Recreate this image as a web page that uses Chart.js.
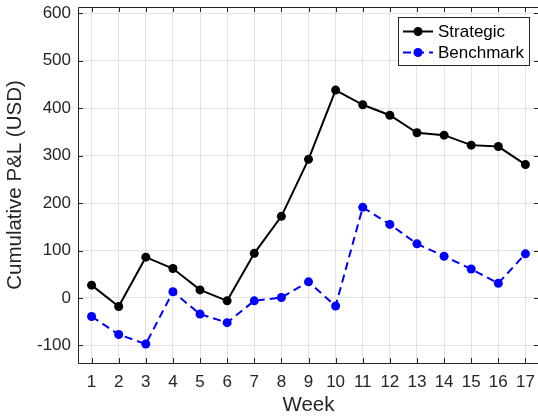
<!DOCTYPE html>
<html>
<head>
<meta charset="utf-8">
<script src="https://cdn.jsdelivr.net/npm/chart.js@4"></script>
<style>
  html, body { margin: 0; padding: 0; background: #fff; overflow: hidden; }
  #wrap { width: 540px; height: 416px; }
</style>
</head>
<body>
<div id="wrap"><canvas id="pnlChart" width="540" height="416"></canvas></div>
<script>
var weeks = [1, 2, 3, 4, 5, 6, 7, 8, 9, 10, 11, 12, 13, 14, 15, 16, 17];
var strategic = [27, -18, 86, 62, 17, -6, 94, 172, 292, 438, 407, 385, 348, 343, 322, 319, 281];
var benchmark = [-39, -77, -97, 13, -34, -52, -6, 1, 34, -17, 191, 155, 114, 88, 61, 31, 93];
var yTicks = [-100, 0, 100, 200, 300, 400, 500, 600];

var axisColor = '#262626';
var gridColor = '#e3e3e3';
var fontFamily = '"Liberation Sans", Arial, Helvetica, sans-serif';

function toPoints(vals) {
    return weeks.map(function (w, i) { return { x: w, y: vals[i] }; });
}

// box around the axes with inward tick marks, like the original
var framePlugin = {
    id: 'frame',
    beforeDatasetsDraw: function (chart) {
        var a = chart.chartArea, c = chart.ctx;
        var xs = chart.scales.x, ys = chart.scales.y;
        c.save();
        c.strokeStyle = axisColor;
        c.lineWidth = 1;
        c.beginPath();
        c.rect(a.left + 0.5, a.top + 0.5, a.right - a.left - 1, a.bottom - a.top);
        weeks.forEach(function (w) {
            var px = Math.round(xs.getPixelForValue(w)) + 0.5;
            c.moveTo(px, a.bottom); c.lineTo(px, a.bottom - 5);
            c.moveTo(px, a.top); c.lineTo(px, a.top + 5);
        });
        yTicks.forEach(function (v) {
            var py = Math.round(ys.getPixelForValue(v)) + 0.5;
            c.moveTo(a.left, py); c.lineTo(a.left + 5, py);
            c.moveTo(a.right, py); c.lineTo(a.right - 5, py);
        });
        c.stroke();
        c.restore();
    }
};

// legend box drawn inside the plot, top right
var boxLegend = {
    id: 'boxLegend',
    afterDatasetsDraw: function (chart) {
        var c = chart.ctx;
        var x0 = 398, y0 = 17, w = 131, h = 48;
        c.save();
        c.fillStyle = '#fff';
        c.fillRect(x0, y0, w, h);
        c.strokeStyle = axisColor;
        c.lineWidth = 1;
        c.strokeRect(x0 + 0.5, y0 + 0.5, w, h);
        chart.data.datasets.forEach(function (ds, i) {
            var y = 31.5 + i * 21;
            c.strokeStyle = ds.borderColor;
            c.lineWidth = ds.borderWidth;
            c.setLineDash(ds.borderDash || []);
            c.beginPath(); c.moveTo(403, y); c.lineTo(433, y); c.stroke();
            c.setLineDash([]);
            c.fillStyle = ds.pointBackgroundColor;
            c.beginPath(); c.arc(418, y, 4.5, 0, Math.PI * 2); c.fill();
            c.fillStyle = '#000';
            c.font = '17px ' + fontFamily;
            c.textBaseline = 'middle';
            c.fillText(ds.label, 438, y + 1);
        });
        c.restore();
    }
};

new Chart(document.getElementById('pnlChart'), {
    type: 'line',
    data: {
        datasets: [{
            label: 'Strategic',
            data: toPoints(strategic),
            borderColor: '#000000',
            backgroundColor: '#000000',
            pointBackgroundColor: '#000000',
            pointBorderWidth: 0,
            pointRadius: 4.5,
            borderWidth: 2,
            tension: 0
        }, {
            label: 'Benchmark',
            data: toPoints(benchmark),
            borderColor: '#0000ff',
            backgroundColor: '#0000ff',
            pointBackgroundColor: '#0000ff',
            pointBorderWidth: 0,
            pointRadius: 4.5,
            borderWidth: 2,
            borderDash: [8, 5],
            tension: 0
        }]
    },
    options: {
        responsive: false,
        animation: false,
        layout: { autoPadding: false, padding: { top: 7, right: 1, left: 0, bottom: 0 } },
        plugins: {
            legend: { display: false },
            tooltip: { enabled: false }
        },
        scales: {
            x: {
                type: 'linear',
                min: 0.5,
                max: 17.5,
                afterBuildTicks: function (s) {
                    s.ticks = weeks.map(function (w) { return { value: w }; });
                },
                afterFit: function (s) {
                    s.height = 53;
                    s.paddingLeft = 0; s.paddingRight = 0;
                },
                grid: { color: gridColor, drawTicks: false },
                border: { display: false },
                ticks: {
                    color: axisColor,
                    padding: 9,
                    maxRotation: 0,
                    autoSkip: false,
                    font: { family: fontFamily, size: 17 }
                },
                title: {
                    display: true,
                    text: 'Week',
                    color: axisColor,
                    padding: { top: -2, bottom: 0 },
                    font: { family: fontFamily, size: 20.5, lineHeight: 1 }
                }
            },
            y: {
                min: -137,
                max: 613,
                afterBuildTicks: function (s) {
                    s.ticks = yTicks.map(function (v) { return { value: v }; });
                },
                afterFit: function (s) {
                    s.width = 78;
                    s.paddingTop = 0; s.paddingBottom = 0;
                },
                grid: { color: gridColor, drawTicks: false },
                border: { display: false },
                ticks: {
                    color: axisColor,
                    padding: 7,
                    font: { family: fontFamily, size: 17 }
                },
                title: {
                    display: true,
                    text: 'Cumulative P&L (USD)',
                    color: axisColor,
                    padding: { top: 5, bottom: 0 },
                    font: { family: fontFamily, size: 20.5, lineHeight: 1 }
                }
            }
        }
    },
    plugins: [framePlugin, boxLegend]
});
</script>
</body>
</html>
